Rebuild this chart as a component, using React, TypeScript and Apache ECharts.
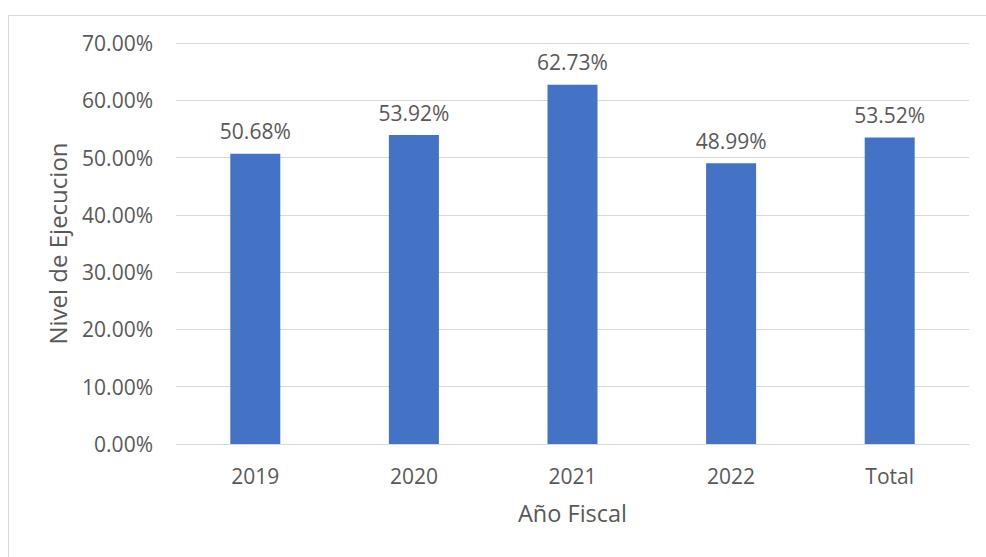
import React, { useEffect, useRef } from "react";
import * as echarts from "echarts";

const categories = ["2019", "2020", "2021", "2022", "Total"];
const values = [50.68, 53.92, 62.73, 48.99, 53.52];
const yTicks = [0, 10, 20, 30, 40, 50, 60, 70];

const FONT = "'Open Sans', sans-serif";
const TEXT = "#595959";

export default function App() {
  const ref = useRef<HTMLDivElement>(null);
  useEffect(() => {
    const chart = echarts.init(ref.current!, null, { renderer: "svg" });
    chart.setOption({
      animation: false,
      backgroundColor: "#ffffff",
      graphic: [
        {
          type: "rect",
          shape: { x: 8.5, y: 15.5, width: 1100, height: 700 },
          style: { fill: "none", stroke: "#d9d9d9", lineWidth: 1 },
          silent: true,
          z: -1,
        },
      ],
      grid: { left: 176, right: 17, top: 43, bottom: 113 },
      xAxis: {
        type: "category",
        data: categories,
        name: "Año Fiscal",
        nameLocation: "middle",
        nameGap: 57,
        nameTextStyle: { color: TEXT, fontFamily: FONT, fontSize: 23.5 },
        axisLine: { lineStyle: { color: "#d9d9d9", width: 1 } },
        axisTick: { show: false },
        axisLabel: { color: TEXT, fontFamily: FONT, fontSize: 21, margin: 21 },
      },
      yAxis: {
        type: "value",
        min: yTicks[0],
        max: yTicks[yTicks.length - 1],
        interval: 10,
        name: "Nivel de Ejecucion",
        nameLocation: "middle",
        nameGap: 107,
        nameTextStyle: { color: TEXT, fontFamily: FONT, fontSize: 24 },
        axisLine: { show: false },
        axisTick: { show: false },
        splitLine: { lineStyle: { color: "#d9d9d9", width: 1 } },
        axisLabel: {
          color: TEXT,
          fontFamily: FONT,
          fontSize: 21,
          margin: 23,
          formatter: (v: number) => v.toFixed(2) + "%",
        },
      },
      series: [
        {
          type: "bar",
          data: values,
          barWidth: 50,
          itemStyle: { color: "#4472C4" },
          label: {
            show: true,
            position: "top",
            distance: 12,
            color: TEXT,
            fontFamily: FONT,
            fontSize: 21,
            formatter: (p: any) => p.value.toFixed(2) + "%",
          },
        },
      ],
    });
    return () => chart.dispose();
  }, []);
  return (
    <div
      ref={ref}
      style={{ position: "fixed", left: 0, top: 0, width: 986, height: 557 }}
    />
  );
}
